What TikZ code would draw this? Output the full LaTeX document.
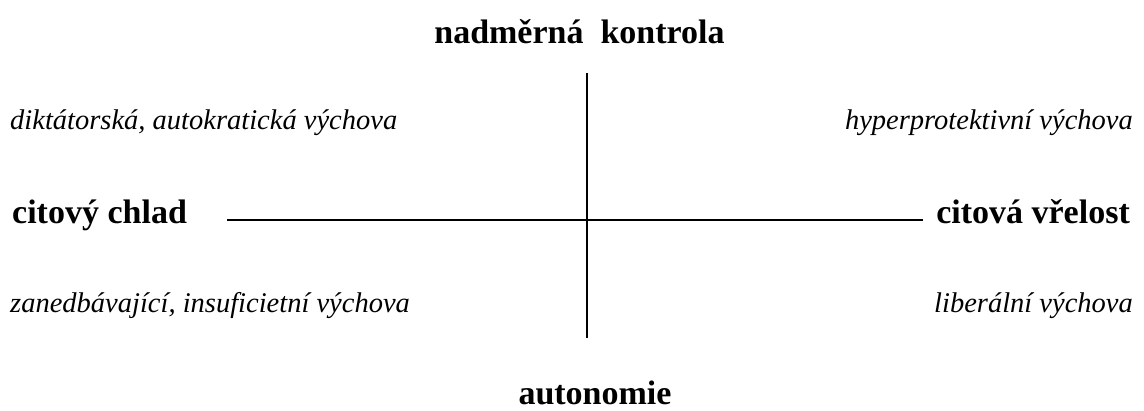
\documentclass[tikz,border=0pt]{standalone}
\usepackage{fontspec}
\setmainfont{Liberation Serif}
\begin{document}
\begin{tikzpicture}[x=1pt,y=-1pt,
  pole/.style={inner sep=0pt,font=\bfseries\fontsize{34}{38}\selectfont},
  style4/.style={inner sep=0pt,font=\itshape\fontsize{28.5}{32}\selectfont},
  axis/.style={line width=2pt}]
\useasboundingbox (0,0) rectangle (1144,410);
\node[pole,anchor=base] (top) at (579.5,43) {nadměrná\ \ kontrola};
\node[pole,anchor=base,text depth=0pt] (bot) at (595,404) {autonomie};
\node[pole,anchor=base west] (left) at (12,223) {citový chlad};
\node[pole,anchor=base east] (right) at (1130,223) {citová vřelost};
\node[style4,anchor=base west] (q1) at (10,129) {diktátorská, autokratická výchova};
\node[style4,anchor=base east] (q2) at (1133,129) {hyperprotektivní výchova};
\node[style4,anchor=base west] (q3) at (10,312) {zanedbávající, insuficietní výchova};
\node[style4,anchor=base east] (q4) at (1133,312) {liberální výchova};
\coordinate (vt) at (586.5,73);
\coordinate (vb) at (586.5,338);
\coordinate (hl) at (227,220);
\coordinate (hr) at (923,220);
\draw[axis] (vt) -- (vb);
\draw[axis] (hl) -- (hr);
\end{tikzpicture}
\end{document}
